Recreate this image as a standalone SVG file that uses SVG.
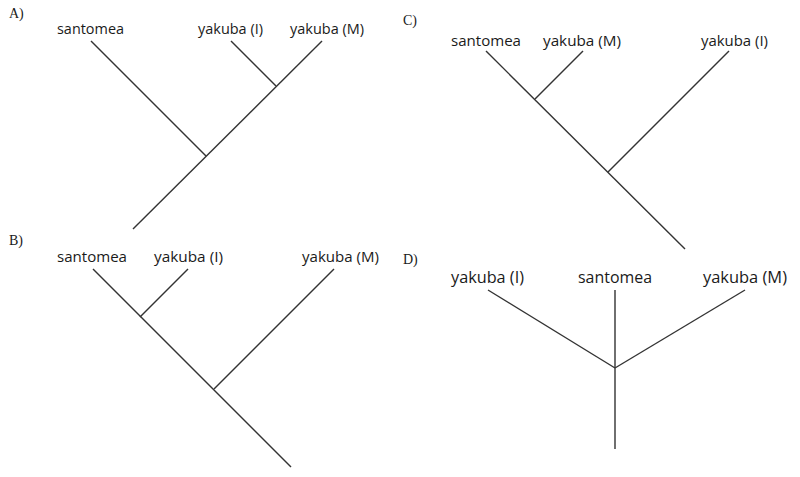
<svg xmlns="http://www.w3.org/2000/svg" width="800" height="477" viewBox="0 0 800 477">
<style>
.lbl{font-family:"Open Sans","Noto Sans","Liberation Sans",sans-serif;font-size:14px;fill:#1a1a1a}
.big{font-size:16px}
.pl{font-family:"Liberation Serif","Times New Roman",serif;font-size:14px;fill:#1a1a1a}
.br{stroke:#333;stroke-width:1.4;fill:none;stroke-linecap:butt}
</style>
<rect width="800" height="477" fill="#fff"/>
<g id="panel-labels">
<text class="pl" x="9" y="18">A)</text>
<text class="pl" x="9" y="245">B)</text>
<text class="pl" x="403" y="25">C)</text>
<text class="pl" x="403" y="264">D)</text>
</g>
<g id="tree-A">
<text id="A-santomea" class="lbl" x="57" y="34" textLength="67" lengthAdjust="spacingAndGlyphs">santomea</text>
<text id="A-yakubaI" class="lbl" x="198" y="34" textLength="65" lengthAdjust="spacingAndGlyphs">yakuba (I)</text>
<text id="A-yakubaM" class="lbl" x="290" y="34" textLength="74" lengthAdjust="spacingAndGlyphs">yakuba (M)</text>
</g>
<g id="tree-B">
<text id="B-santomea" class="lbl" x="57" y="262" textLength="70" lengthAdjust="spacingAndGlyphs">santomea</text>
<text id="B-yakubaI" class="lbl" x="154" y="262" textLength="69" lengthAdjust="spacingAndGlyphs">yakuba (I)</text>
<text id="B-yakubaM" class="lbl" x="302" y="262" textLength="77" lengthAdjust="spacingAndGlyphs">yakuba (M)</text>
</g>
<g id="tree-C">
<text id="C-santomea" class="lbl" x="451" y="46" textLength="70" lengthAdjust="spacingAndGlyphs">santomea</text>
<text id="C-yakubaM" class="lbl" x="543" y="46" textLength="78" lengthAdjust="spacingAndGlyphs">yakuba (M)</text>
<text id="C-yakubaI" class="lbl" x="701" y="46" textLength="67" lengthAdjust="spacingAndGlyphs">yakuba (I)</text>
</g>
<g id="tree-D">
<text id="D-yakubaI" class="lbl big" x="451" y="283" textLength="73" lengthAdjust="spacingAndGlyphs">yakuba (I)</text>
<text id="D-santomea" class="lbl big" x="578" y="283" textLength="74" lengthAdjust="spacingAndGlyphs">santomea</text>
<text id="D-yakubaM" class="lbl big" x="703" y="283" textLength="84" lengthAdjust="spacingAndGlyphs">yakuba (M)</text>
</g>
<g id="connectors" class="br">
<line x1="133" y1="229" x2="322" y2="41"/>
<line x1="91" y1="41" x2="206" y2="156"/>
<line x1="231" y1="41" x2="276" y2="86"/>
<line x1="93" y1="269" x2="291" y2="467"/>
<line x1="188" y1="269" x2="140" y2="317"/>
<line x1="334" y1="269" x2="214" y2="389"/>
<line x1="486" y1="51" x2="685" y2="249"/>
<line x1="583" y1="51" x2="535" y2="99"/>
<line x1="729" y1="51" x2="608" y2="172"/>
<line x1="488" y1="290" x2="615" y2="368"/>
<line x1="745" y1="290" x2="615" y2="368"/>
<line x1="615" y1="290" x2="615" y2="449"/>
</g>
</svg>
